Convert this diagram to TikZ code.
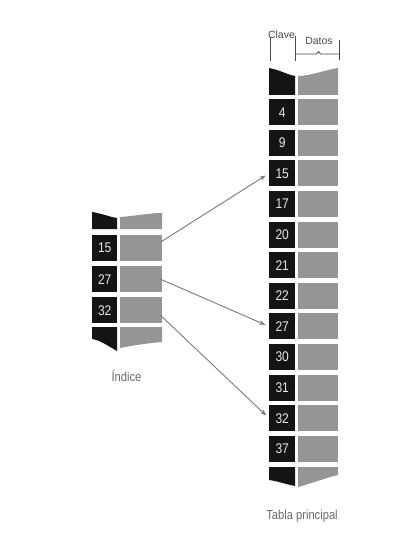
\documentclass[tikz,border=0pt]{standalone}
\usepackage{fontspec}
\setmainfont{Liberation Sans}
\newfontfamily\narrowsans[FakeStretch=0.86]{Liberation Sans}
\usetikzlibrary{arrows.meta}
\definecolor{keyblack}{HTML}{141414}
\definecolor{datagray}{HTML}{959595}
\definecolor{numwhite}{HTML}{E6E6E6}
\definecolor{labelgray}{HTML}{6A6A6A}
\definecolor{arrowgray}{HTML}{7A7A7A}
\definecolor{bracketgray}{HTML}{4A4A4A}
\tikzset{
  keycell/.style={fill=keyblack, text=numwhite, inner sep=0pt, anchor=north west,
    minimum height=26pt, font=\narrowsans\fontsize{14}{14}\selectfont},
  datacell/.style={fill=datagray, inner sep=0pt, anchor=north west, minimum height=26pt},
  pointer/.style={draw=arrowgray, line width=0.9pt, -{Stealth[length=6pt,width=4.5pt]}, shorten >=4pt},
  caption/.style={text=labelgray, font=\narrowsans\fontsize{13}{13}\selectfont},
  headtext/.style={text=bracketgray, font=\fontsize{10.5}{10.5}\selectfont, inner sep=0pt},
  bracket/.style={draw=bracketgray, line width=0.8pt}
}
\begin{document}
\begin{tikzpicture}[x=1pt,y=-1pt]
\fill[white] (0,0) rectangle (415,540);
\useasboundingbox (0,0) rectangle (415,540);

% ---------- main table ----------
\fill[keyblack] (269,95) -- (269,68) .. controls (280,70) and (288,75) .. (295,76) -- (295,95) -- cycle;
\fill[datagray] (298,95) -- (298,76) .. controls (310,76) and (325,70) .. (338,68) -- (338,95) -- cycle;
\foreach \v [count=\i] in {4,9,15,17,20,21,22,27,30,31,32,37} {
  \pgfmathsetmacro\yy{99+30.6*(\i-1)}
  \node[keycell, minimum width=26pt] (mk\i) at (269,\yy) {\v};
  \node[datacell, minimum width=40pt] (md\i) at (298,\yy) {};
}
\fill[keyblack] (269,467) -- (295,467) -- (295,486) .. controls (285,484) and (277,481) .. (269,480) -- cycle;
\fill[datagray] (298,467) -- (338,467) -- (338,475) .. controls (325,478) and (310,484) .. (298,487) -- cycle;

% header brackets
\node[headtext] (clave) at (281.5,35) {Clave};
\node[headtext] (datos) at (319,41) {Datos};
\draw[bracket] (270,37) -- (270,61);
\draw[bracket] (295,36) -- (295,61);
\draw[bracket] (295,54) -- (316.5,54) -- (318.5,51.5) -- (320.5,54) -- (339,54);
\draw[bracket] (339,40) -- (339,60);

\node[caption] (tabla) at (302,516) {Tabla principal};

% ---------- index ----------
\fill[keyblack] (92,229) -- (92,212) .. controls (100,213) and (110,217) .. (117,218) -- (117,229) -- cycle;
\fill[datagray] (120,229) -- (120,217) .. controls (135,216) and (150,213) .. (162,213) -- (162,229) -- cycle;
\foreach \v [count=\i] in {15,27,32} {
  \pgfmathsetmacro\yy{235+31*(\i-1)}
  \node[keycell, minimum width=25pt] (ik\i) at (92,\yy) {\v};
  \node[datacell, minimum width=42pt] (id\i) at (120,\yy) {};
}
\fill[keyblack] (92,327) -- (117,327) -- (117,351) .. controls (108,346) and (100,340) .. (92,339) -- cycle;
\fill[datagray] (120,327) -- (162,327) -- (162,342) .. controls (150,343) and (135,345) .. (120,348) -- cycle;

\node[caption] (indice) at (126.5,376) {Índice};

% ---------- pointers ----------
\draw[pointer] ([xshift=-2pt,yshift=6pt]id1.east) -- (mk3.west);
\draw[pointer] ([xshift=-2pt]id2.east) -- (mk8.west);
\draw[pointer] ([xshift=-2pt,yshift=-5pt]id3.east) -- (mk11.west);
\end{tikzpicture}
\end{document}
